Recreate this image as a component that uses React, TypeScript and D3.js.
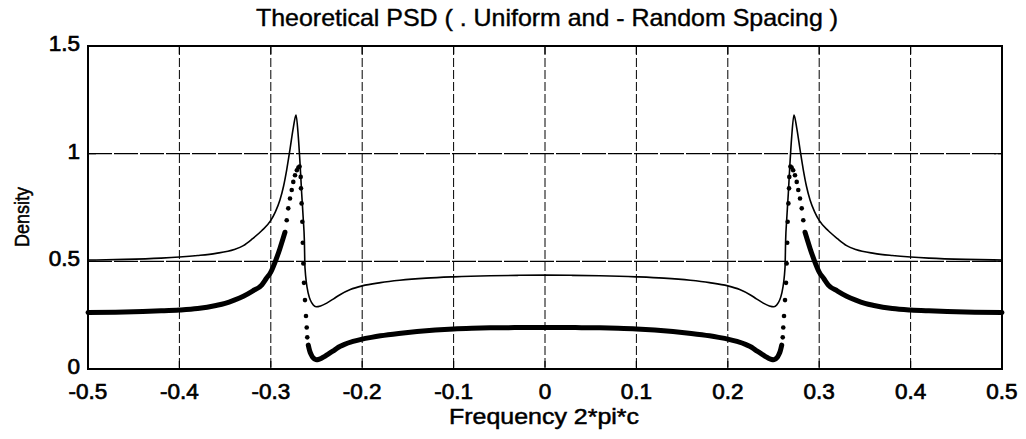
import React from 'react';
import * as d3 from 'd3';

const W = 1026;
const H = 439;

const titleText = 'Theoretical PSD ( . Uniform and - Random Spacing )';
const xLabelText = 'Frequency 2*pi*c';
const yLabelText = 'Density';

const xTicks = [-0.5, -0.4, -0.3, -0.2, -0.1, 0, 0.1, 0.2, 0.3, 0.4, 0.5];
const xTickLabels = ['-0.5', '-0.4', '-0.3', '-0.2', '-0.1', '0', '0.1', '0.2', '0.3', '0.4', '0.5'];
const yTicks = [0, 0.5, 1, 1.5];
const yTickLabels = ['0', '0.5', '1', '1.5'];

// Random spacing (solid line)
const randomX = [
  -0.5, -0.46, -0.42, -0.4, -0.38, -0.36, -0.34, -0.33, -0.32, -0.31, -0.3, -0.295, -0.29, -0.286, -0.2826, -0.279,
  -0.2754, -0.2724, -0.2699, -0.268, -0.2662, -0.2644, -0.2633, -0.2626, -0.259, -0.2535, -0.2505, -0.2455, -0.2388,
  -0.2313, -0.2243, -0.213, -0.2, -0.18, -0.159, -0.13, -0.1, -0.06, -0.03, 0,
  0.03, 0.06, 0.1, 0.13, 0.159, 0.18, 0.2, 0.213, 0.2243, 0.2313, 0.2388, 0.2455, 0.2505, 0.2535, 0.259,
  0.2626, 0.2633, 0.2644, 0.2662, 0.268, 0.2699, 0.2724, 0.2754, 0.279, 0.2826, 0.286, 0.29, 0.295, 0.3, 0.31,
  0.32, 0.33, 0.34, 0.36, 0.38, 0.4, 0.42, 0.46, 0.5,
];
const randomY = [
  0.506, 0.509, 0.515, 0.52, 0.527, 0.537, 0.555, 0.573, 0.605, 0.642, 0.69, 0.73, 0.785, 0.85, 0.925, 1.02,
  1.12, 1.179, 1.078, 0.954, 0.815, 0.691, 0.6, 0.47, 0.351, 0.297, 0.289, 0.293, 0.306,
  0.326, 0.345, 0.369, 0.386, 0.401, 0.412, 0.422, 0.428, 0.433, 0.435, 0.436,
  0.435, 0.433, 0.428, 0.422, 0.412, 0.401, 0.386, 0.369, 0.345, 0.326, 0.306, 0.293, 0.289, 0.297, 0.351,
  0.47, 0.6, 0.691, 0.815, 0.954, 1.078, 1.179, 1.12, 1.02, 0.925, 0.85, 0.785, 0.73, 0.69, 0.642,
  0.605, 0.573, 0.555, 0.537, 0.527, 0.52, 0.515, 0.509, 0.506,
];

// Uniform spacing (dotted): dense stretches where the dots merge into a thick trace
const uniformOuterLeftX = [-0.5, -0.47, -0.44, -0.42, -0.4, -0.38, -0.36, -0.35, -0.34, -0.33, -0.32, -0.31, -0.305, -0.3, -0.295, -0.29, -0.287, -0.2845];
const uniformOuterLeftY = [0.262, 0.264, 0.267, 0.27, 0.274, 0.281, 0.295, 0.305, 0.32, 0.338, 0.362, 0.39, 0.42, 0.45, 0.5, 0.56, 0.6, 0.635];
const uniformCenterX = [
  -0.259, -0.2575, -0.256, -0.2545, -0.253, -0.2515, -0.25, -0.248, -0.245, -0.242, -0.238, -0.234, -0.23, -0.226,
  -0.22, -0.21, -0.2, -0.19, -0.18, -0.16, -0.14, -0.12, -0.1, -0.08, -0.06, -0.04, -0.02, 0,
  0.02, 0.04, 0.06, 0.08, 0.1, 0.12, 0.14, 0.16, 0.18, 0.19, 0.2, 0.21, 0.22, 0.226, 0.23, 0.234, 0.238,
  0.242, 0.245, 0.248, 0.25, 0.2515, 0.253, 0.2545, 0.256, 0.2575, 0.259,
];
const uniformCenterY = [
  0.111, 0.085, 0.068, 0.056, 0.049, 0.045, 0.043, 0.044, 0.049, 0.056, 0.067, 0.078, 0.089, 0.101,
  0.113, 0.128, 0.139, 0.147, 0.154, 0.165, 0.174, 0.181, 0.186, 0.189, 0.191, 0.192, 0.193, 0.193,
  0.193, 0.192, 0.191, 0.189, 0.186, 0.181, 0.174, 0.165, 0.154, 0.147, 0.139, 0.128, 0.113, 0.101, 0.089, 0.078, 0.067,
  0.056, 0.049, 0.044, 0.043, 0.045, 0.049, 0.056, 0.068, 0.085, 0.111,
];
const uniformOuterRightX = [0.2845, 0.287, 0.29, 0.295, 0.3, 0.305, 0.31, 0.32, 0.33, 0.34, 0.35, 0.36, 0.38, 0.4, 0.42, 0.44, 0.47, 0.5];
const uniformOuterRightY = [0.635, 0.6, 0.56, 0.5, 0.45, 0.42, 0.39, 0.362, 0.338, 0.32, 0.305, 0.295, 0.281, 0.274, 0.27, 0.267, 0.264, 0.262];

// Uniform spacing: individually visible dots around the two peaks
const uniformDotX = [
  -0.2826, -0.2809, -0.279, -0.2771, -0.2754, -0.2735, -0.2715, -0.2698, -0.2685, -0.2673, -0.267, -0.2663,
  -0.2655, -0.265, -0.2644, -0.2637, -0.2626, -0.2615, -0.2607, -0.2601,
  0.2601, 0.2607, 0.2615, 0.2626, 0.2637, 0.2644, 0.265, 0.2655, 0.2663, 0.267, 0.2673, 0.2685, 0.2698,
  0.2715, 0.2735, 0.2754, 0.2771, 0.279, 0.2809, 0.2826,
];
const uniformDotY = [
  0.691, 0.746, 0.792, 0.831, 0.869, 0.9, 0.923, 0.936, 0.94, 0.892, 0.839, 0.769,
  0.684, 0.586, 0.49, 0.4, 0.32, 0.246, 0.193, 0.147,
  0.147, 0.193, 0.246, 0.32, 0.4, 0.49, 0.586, 0.684, 0.769, 0.839, 0.892, 0.94, 0.936,
  0.923, 0.9, 0.869, 0.831, 0.792, 0.746, 0.691,
];

const FONT = '"Liberation Sans", Arial, Helvetica, sans-serif';

export default function App() {
  const left = 88;
  const right = 1002;
  const top = 46;
  const bottom = 369;
  const x = d3.scaleLinear().domain([-0.5, 0.5]).range([left, right]);
  const y = d3.scaleLinear().domain([0, 1.5]).range([bottom, top]);

  const line = d3
    .line<[number, number]>()
    .x((d) => x(d[0]))
    .y((d) => y(d[1]))
    .curve(d3.curveMonotoneX);

  const zip = (xs: number[], ys: number[]) => xs.map((v, i) => [v, ys[i]] as [number, number]);

  const randomPath = line(zip(randomX, randomY)) || '';
  const uniformSegments = [
    zip(uniformOuterLeftX, uniformOuterLeftY),
    zip(uniformCenterX, uniformCenterY),
    zip(uniformOuterRightX, uniformOuterRightY),
  ];
  const uniformDots = zip(uniformDotX, uniformDotY);

  const gridX = xTicks.filter((t) => t > -0.5 && t < 0.5);
  const gridY = yTicks.filter((t) => t > 0 && t < 1.5);
  const tickLen = 8;

  return (
    <svg
      width={W}
      height={H}
      viewBox={`0 0 ${W} ${H}`}
      style={{ position: 'absolute', left: 0, top: 0, display: 'block', background: '#fff' }}
    >
      <rect x={0} y={0} width={W} height={H} fill="#fff" />

      {/* grid */}
      {gridX.map((t) => (
        <line key={'gx' + t} x1={x(t)} x2={x(t)} y1={top} y2={bottom} stroke="#000" strokeWidth={1} strokeDasharray="9,3" />
      ))}
      {gridY.map((t) => (
        <line key={'gy' + t} x1={left} x2={right} y1={y(t)} y2={y(t)} stroke="#000" strokeWidth={1.2} strokeDasharray="24,2" />
      ))}

      {/* ticks */}
      {xTicks.map((t) => (
        <g key={'xt' + t}>
          <line x1={x(t)} x2={x(t)} y1={bottom} y2={bottom - tickLen} stroke="#000" strokeWidth={1.2} />
          <line x1={x(t)} x2={x(t)} y1={top} y2={top + tickLen} stroke="#000" strokeWidth={1.2} />
        </g>
      ))}
      {yTicks.map((t) => (
        <g key={'yt' + t}>
          <line x1={left} x2={left + tickLen} y1={y(t)} y2={y(t)} stroke="#000" strokeWidth={1.2} />
          <line x1={right} x2={right - tickLen} y1={y(t)} y2={y(t)} stroke="#000" strokeWidth={1.2} />
        </g>
      ))}

      {/* uniform spacing: dotted series */}
      {uniformSegments.map((seg, i) => (
        <path key={'us' + i} d={line(seg) || ''} fill="none" stroke="#000" strokeWidth={5} strokeLinecap="round" strokeLinejoin="round" />
      ))}
      {uniformDots.map((d, i) => (
        <circle key={'ud' + i} cx={x(d[0])} cy={y(d[1])} r={2.3} fill="#000" />
      ))}

      {/* random spacing: solid series */}
      <path d={randomPath} fill="none" stroke="#000" strokeWidth={1.6} strokeLinejoin="round" />

      {/* axes box */}
      <rect x={left} y={top} width={right - left} height={bottom - top} fill="none" stroke="#000" strokeWidth={2} />

      {/* tick labels */}
      {xTicks.map((t, i) => (
        <text key={'xl' + t} x={x(t)} y={399} textAnchor="middle" fontFamily={FONT} fontSize={22.5} fill="#000" stroke="#000" strokeWidth={0.7}>
          {xTickLabels[i]}
        </text>
      ))}
      {yTicks.map((t, i) => (
        <text key={'yl' + t} x={80} y={y(t) + 5} textAnchor="end" fontFamily={FONT} fontSize={22.5} fill="#000" stroke="#000" strokeWidth={0.7}>
          {yTickLabels[i]}
        </text>
      ))}

      {/* title and axis labels */}
      <text x={547} y={26} textAnchor="middle" fontFamily={FONT} fontSize={24} fill="#000" stroke="#000" strokeWidth={0.4} textLength={582} lengthAdjust="spacingAndGlyphs">
        {titleText}
      </text>
      <text x={544} y={424} textAnchor="middle" fontFamily={FONT} fontSize={22} fill="#000" stroke="#000" strokeWidth={0.5} textLength={190} lengthAdjust="spacingAndGlyphs">
        {xLabelText}
      </text>
      <text
        transform={`translate(29, 217) rotate(-90)`}
        textAnchor="middle"
        fontFamily={FONT}
        fontSize={20}
        fill="#000"
        stroke="#000"
        strokeWidth={0.5}
        textLength={60}
        lengthAdjust="spacingAndGlyphs"
      >
        {yLabelText}
      </text>
    </svg>
  );
}
